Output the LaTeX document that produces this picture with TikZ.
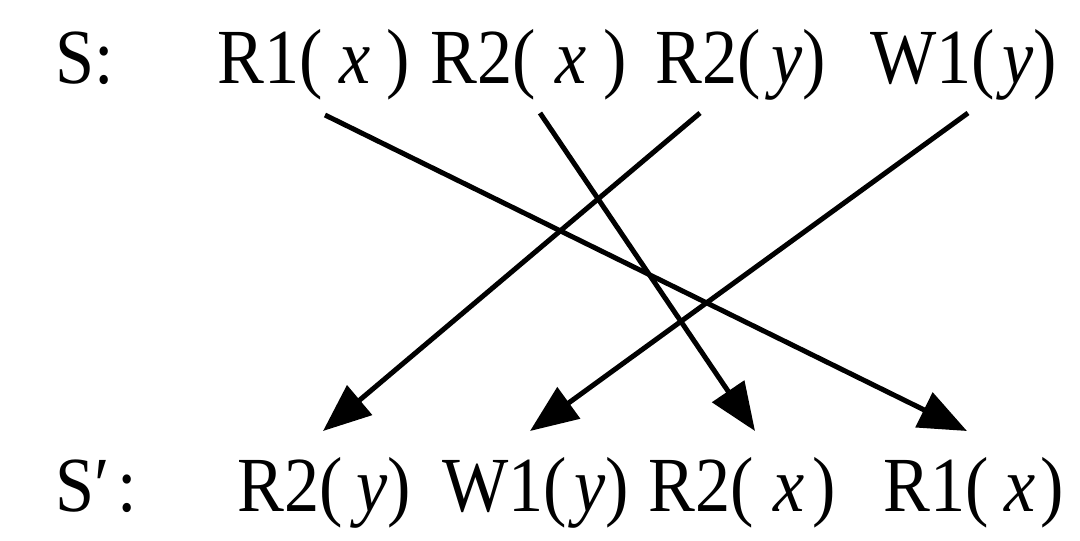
\documentclass[tikz,border=0pt]{standalone}
\usepackage{fontspec}
\newfontfamily\tms{Liberation Serif}[FakeStretch=0.9]
\usetikzlibrary{arrows.meta}
\begin{document}
\begin{tikzpicture}[x=1pt,y=-1pt,
  lbl/.style={anchor=base west,inner sep=0pt,text=black,font=\tms\fontsize{78}{80}\selectfont},
  arr/.style={line width=5pt,draw=black,-{Triangle[length=48pt,width=38pt]}}]
\useasboundingbox (0,0) rectangle (1080,541);
% top row
\node[lbl] (S)  at (55,83)  {S:};
\node[lbl] (t1) at (217,83) {R1(\kern.22em\textit{x}\kern.2em)};
\node[lbl] (t2) at (430,83) {R2(\kern.25em\textit{x}\kern.22em)};
\node[lbl] (t3) at (655,83) {R2(\kern.14em\textit{y})};
\node[lbl] (t4) at (870,83) {W1(\kern.1em\textit{y})};
% bottom row
\node[lbl] (Sp) at (55,511) {S′\kern.1em:};
\node[lbl] (b1) at (237,511) {R2(\kern.18em\textit{y})};
\node[lbl] (b2) at (442,511) {W1(\kern.1em\textit{y})};
\node[lbl] (b3) at (648,511) {R2(\kern.26em\textit{x}\kern.1em)};
\node[lbl] (b4) at (883,511) {R1(\kern.2em\textit{x}\kern.07em)};
% arrows
\draw[arr] ([shift={(108,32)}]t1.base west) -- ([shift={(84,-80)}]b4.base west);
\draw[arr] ([shift={(110,30)}]t2.base west) -- ([shift={(107,-80)}]b3.base west);
\draw[arr] ([shift={(45,30)}]t3.base west) -- ([shift={(86,-80)}]b1.base west);
\draw[arr] ([shift={(98,30)}]t4.base west) -- ([shift={(88,-80)}]b2.base west);
\end{tikzpicture}
\end{document}
